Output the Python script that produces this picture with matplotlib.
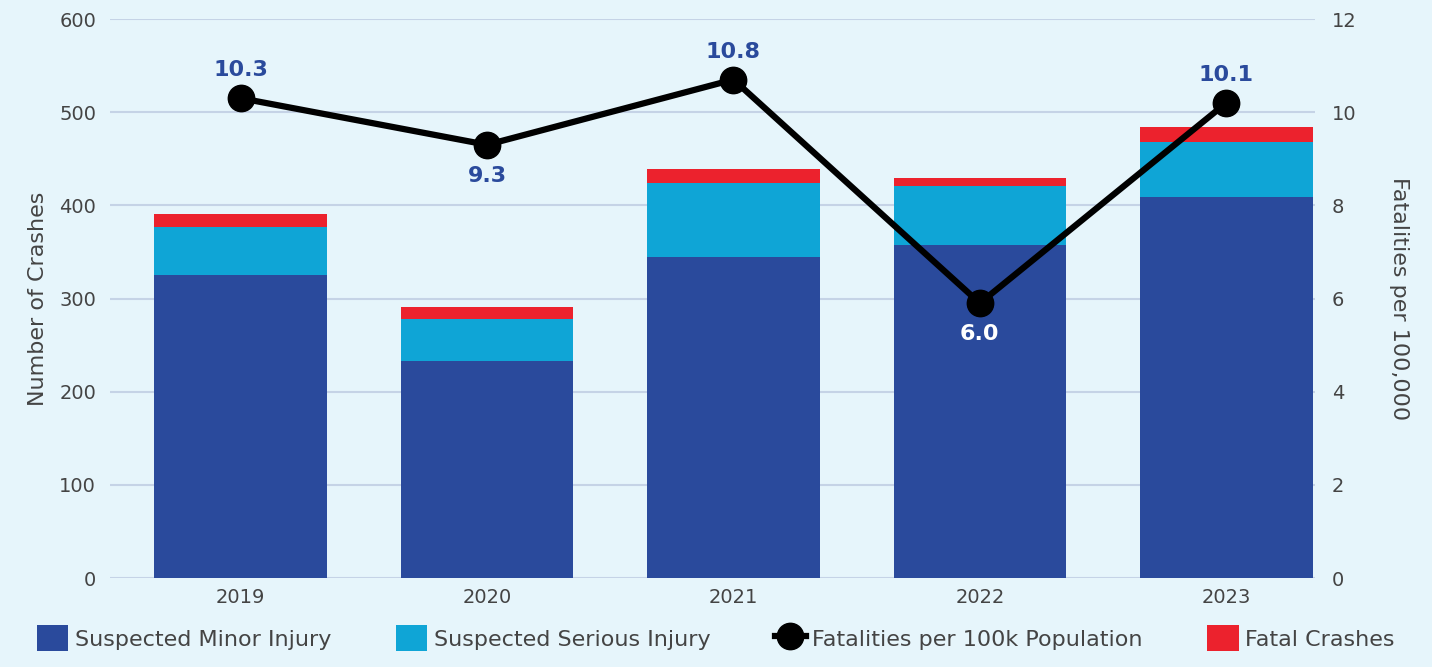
import numpy as np
import matplotlib
matplotlib.use("Agg")
import matplotlib.pyplot as plt

# data
years = ["2019", "2020", "2021", "2022", "2023"]
minor = [325, 233, 345, 357, 409]
serious = [52, 45, 79, 64, 59]
fatal = [14, 13, 15, 8, 16]
rate = [10.3, 9.3, 10.7, 5.9, 10.2]        # where the dots sit
rate_labels = ["10.3", "9.3", "10.8", "6.0", "10.1"]  # printed labels
label_pos = ["above", "below", "above", "below", "above"]

BG = "#e6f5fb"
C_MINOR = "#2a4a9c"
C_SERIOUS = "#0fa5d6"
C_FATAL = "#ec222d"
TXT = "#444444"
GRID = "#c5d3e6"

plt.rcParams["font.family"] = ["DejaVu Sans"]

fig = plt.figure(figsize=(14.32, 6.67), dpi=100, facecolor=BG)
ax = fig.add_axes([0.0768, 0.1334, 0.8415, 0.8381])
ax.set_facecolor(BG)

x = np.arange(len(years))
w = 0.70
b1 = ax.bar(x, minor, w, color=C_MINOR, label="Suspected Minor Injury", zorder=3)
b2 = ax.bar(x, serious, w, bottom=minor, color=C_SERIOUS,
            label="Suspected Serious Injury", zorder=3)
bottom2 = np.array(minor) + np.array(serious)
b3 = ax.bar(x, fatal, w, bottom=bottom2, color=C_FATAL, label="Fatal Crashes", zorder=3)

ax.set_ylim(0, 600)
ax.set_yticks(range(0, 601, 100))
ax.set_xlim(-0.53, 4.36)
ax.set_xticks(x)
ax.set_xticklabels(years)
ax.grid(axis="y", color=GRID, linewidth=1.5, zorder=0)
ax.tick_params(length=0, labelsize=14, labelcolor=TXT, pad=10)
ax.tick_params(axis="x", pad=7)
for s in ax.spines.values():
    s.set_visible(False)
ax.set_ylabel("Number of Crashes", fontsize=16, color=TXT, labelpad=8)

ax2 = ax.twinx()
ax2.set_ylim(0, 12)
ax2.set_yticks(range(0, 13, 2))
ax2.tick_params(length=0, labelsize=14, labelcolor=TXT, pad=12)
for s in ax2.spines.values():
    s.set_visible(False)
ax2.set_ylabel("Fatalities per 100,000", fontsize=16, color=TXT,
               rotation=-90, labelpad=38)

ln, = ax2.plot(x, rate, color="black", linewidth=4.5, marker="o",
               markersize=19, label="Fatalities per 100k Population", zorder=5)

for xi, v, txt, pos in zip(x, rate, rate_labels, label_pos):
    if pos == "above":
        ax2.annotate(txt, (xi, v), xytext=(0, 13), textcoords="offset points",
                     ha="center", va="bottom", fontsize=16, fontweight="bold",
                     color=C_MINOR)
    else:
        col = "white" if v < 8 else C_MINOR
        ax2.annotate(txt, (xi, v), xytext=(0, -15), textcoords="offset points",
                     ha="center", va="top", fontsize=16, fontweight="bold",
                     color=col)

handles = [b1, b2, ln, b3]
fig.legend(handles, [h.get_label() for h in handles], loc="center",
           bbox_to_anchor=(0.5, 0.043), ncol=4, frameon=False, fontsize=16,
           labelcolor=TXT, handlelength=1.4, handleheight=1.4,
           columnspacing=2.9, handletextpad=0.3)

fig.savefig("out.png", dpi=100, facecolor=BG)
